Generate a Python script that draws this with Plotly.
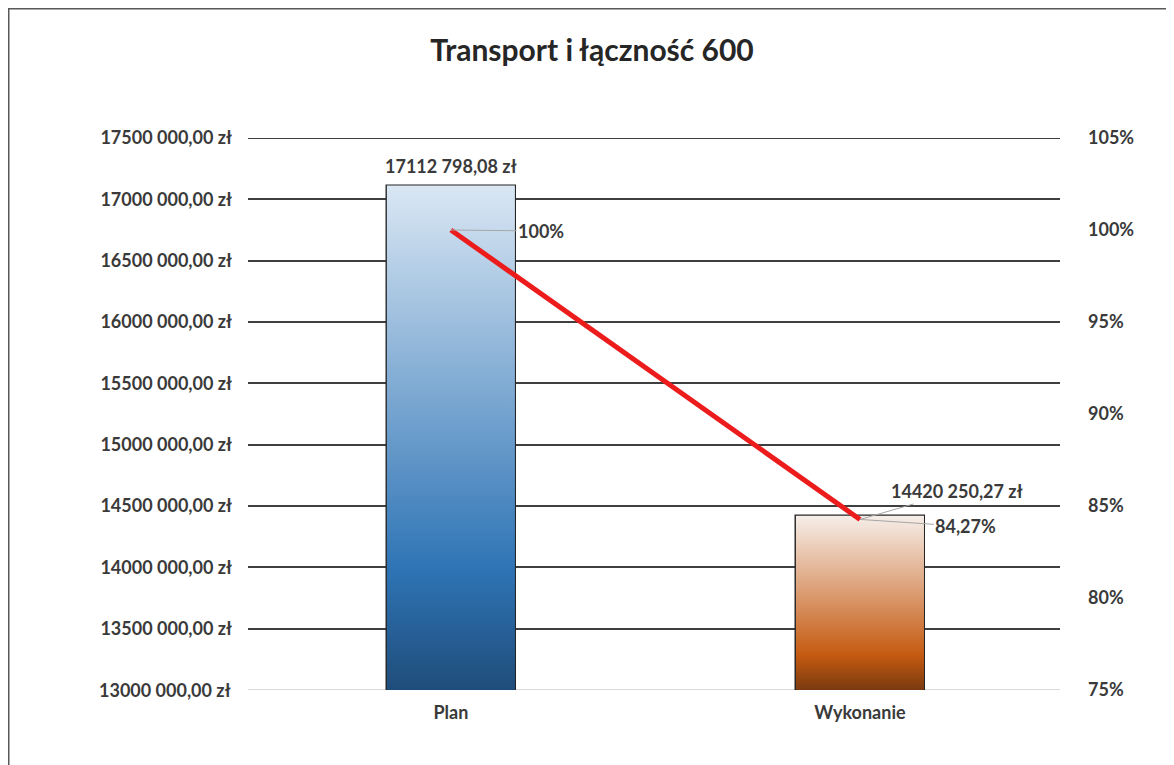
import plotly.graph_objects as go

# ---------------- data ----------------
categories = ["Plan", "Wykonanie"]
amounts = [17112798.08, 14420250.27]
amount_labels = ["17112 798,08 zł", "14420 250,27 zł"]
percents = [100.0, 84.27]
percent_labels = ["100%", "84,27%"]

left_tick_values = [13000000, 13500000, 14000000, 14500000, 15000000,
                    15500000, 16000000, 16500000, 17000000, 17500000]
left_tick_labels = ["13000 000,00 zł", "13500 000,00 zł", "14000 000,00 zł",
                    "14500 000,00 zł", "15000 000,00 zł", "15500 000,00 zł",
                    "16000 000,00 zł", "16500 000,00 zł", "17000 000,00 zł",
                    "17500 000,00 zł"]
right_tick_values = [75, 80, 85, 90, 95, 100, 105]
right_tick_labels = ["75%", "80%", "85%", "90%", "95%", "100%", "105%"]

title_text = "Transport i łączność 600"

# ---------------- style ----------------
FONT = "Lato"
TXT = "#3a3a3a"
FS = 18
GRID = "#3f3f3f"
bar_gradients = [
    [[0, "#1f4d7a"], [0.24, "#2e74b5"], [1, "#dae7f4"]],
    [[0, "#7a3a10"], [0.2, "#c55a11"], [1, "#f6eee9"]],
]
bar_width = 0.313
y_min, y_max = left_tick_values[0], left_tick_values[-1]
x_pos = list(range(len(categories)))

# the page has an 8px body margin, so the figure is 8px smaller than the window
W, H = 1166, 757
ml, mr, mt, mb = 240, 114, 130, 75
pw, ph = W - ml - mr, H - mt - mb


def px_to_paper_x(px):
    return (px - ml) / pw


def px_to_paper_y(py):
    return (H - mb - py) / ph


tfont = dict(family=FONT, size=FS, color=TXT, weight="bold")

fig = go.Figure()

# gradient fills of the bars
for i, (xc, v) in enumerate(zip(x_pos, amounts)):
    x0, x1 = xc - bar_width / 2, xc + bar_width / 2
    fig.add_trace(go.Scatter(
        x=[x0, x1, x1, x0, x0], y=[y_min, y_min, v, v, y_min],
        mode="lines", line=dict(width=0), fill="toself",
        fillgradient=dict(type="vertical", colorscale=bar_gradients[i]),
        hoverinfo="skip", showlegend=False))

# bar outlines (actual bar trace)
fig.add_trace(go.Bar(
    x=x_pos, y=amounts, width=bar_width,
    marker=dict(color="rgba(0,0,0,0)", line=dict(color="#262626", width=2.5)),
    showlegend=False, hoverinfo="skip"))

# percent line on secondary axis
fig.add_trace(go.Scatter(
    x=x_pos, y=percents, yaxis="y2", mode="lines",
    line=dict(color="#ec1c1c", width=5), showlegend=False, hoverinfo="skip"))

annotations = []
# amount label above Plan bar
annotations.append(dict(
    x=x_pos[0], y=amounts[0], xref="x", yref="y", text=amount_labels[0],
    showarrow=False, yanchor="bottom", yshift=7, font=tfont))
# amount label for Wykonanie with leader line
annotations.append(dict(
    x=x_pos[1], y=percents[1], xref="x", yref="y2", text=amount_labels[1],
    showarrow=True, arrowhead=0, arrowwidth=1, arrowcolor="#a6a6a6",
    ax=97, ay=-28, font=tfont))
# percentage labels with leader lines
pct_offsets = [(90, 1), (106, 7)]
for xc, p, lab, (axo, ayo) in zip(x_pos, percents, percent_labels, pct_offsets):
    annotations.append(dict(
        x=xc, y=p, xref="x", yref="y2", text=lab,
        showarrow=True, arrowhead=0, arrowwidth=1, arrowcolor="#a6a6a6",
        ax=axo, ay=ayo, font=tfont))

# left label for the base value (its grid line is drawn light)
annotations.append(dict(
    x=0, y=y_min, xref="paper", yref="y", text=left_tick_labels[0],
    showarrow=False, xanchor="right", xshift=-15, font=tfont))

shapes = [
    # outer chart border
    dict(type="line", xref="paper", yref="paper",
         x0=px_to_paper_x(0.5), x1=px_to_paper_x(0.5),
         y0=px_to_paper_y(H + 5), y1=px_to_paper_y(0),
         line=dict(color="#595959", width=2)),
    dict(type="line", xref="paper", yref="paper",
         x0=px_to_paper_x(0), x1=px_to_paper_x(W + 5),
         y0=px_to_paper_y(0.5), y1=px_to_paper_y(0.5),
         line=dict(color="#595959", width=2)),
    dict(type="line", xref="paper", yref="paper",
         x0=px_to_paper_x(1163.5), x1=px_to_paper_x(1163.5),
         y0=px_to_paper_y(H + 5), y1=px_to_paper_y(0),
         line=dict(color="#e0e0e0", width=1)),
    # light base line
    dict(type="line", xref="paper", yref="y", layer="below",
         x0=0, x1=1, y0=y_min, y1=y_min,
         line=dict(color="#d9d9d9", width=2)),
    # top grid line (plotly omits the one at the range edge)
    dict(type="line", xref="paper", yref="y", layer="below",
         x0=0, x1=1, y0=y_max, y1=y_max,
         line=dict(color=GRID, width=2)),
]

fig.update_layout(
    width=W, height=H,
    margin=dict(l=ml, r=mr, t=mt, b=mb, pad=0),
    paper_bgcolor="white", plot_bgcolor="white",
    title=dict(text=title_text, x=584 / W, xref="container",
               y=1 - 42 / H, yref="container", xanchor="center", yanchor="middle",
               font=dict(family=FONT, size=30, color="#262626", weight="bold")),
    xaxis=dict(range=[-0.496, 1.489], tickmode="array", tickvals=x_pos,
               ticktext=categories, showgrid=False, zeroline=False,
               showline=False, ticks="", ticklabelstandoff=10, tickfont=tfont),
    yaxis=dict(range=[y_min, y_max], tickmode="array", tickvals=left_tick_values[1:],
               ticktext=left_tick_labels[1:], showgrid=True, gridcolor=GRID,
               gridwidth=2, zeroline=False, showline=False, ticks="",
               ticklabelstandoff=15, tickfont=tfont),
    yaxis2=dict(range=[75, 105], overlaying="y", side="right", tickmode="array",
                tickvals=right_tick_values, ticktext=right_tick_labels,
                showgrid=False, zeroline=False, showline=False, ticks="",
                ticklabelstandoff=27, tickfont=tfont),
    annotations=annotations,
    shapes=shapes,
    bargap=0,
)

fig.write_html("out.html")
